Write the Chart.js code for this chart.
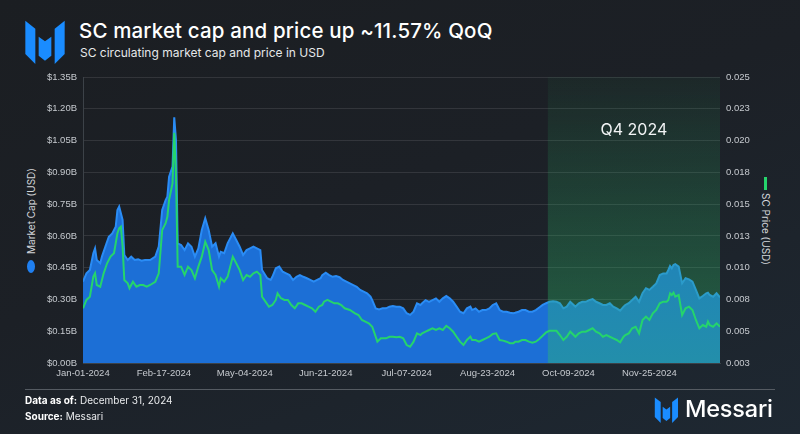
<!DOCTYPE html>
<html>
<head>
<meta charset="utf-8">
<script src="https://cdn.jsdelivr.net/npm/chart.js@4.4.1/dist/chart.umd.min.js"></script>
<style>
  html, body { margin:0; padding:0; }
  body {
    width:800px; height:434px; overflow:hidden; position:relative;
    background: linear-gradient(160deg, #1b1e22 0%, #1c2026 45%, #1e2832 100%);
    font-family: Inter, "Liberation Sans", sans-serif; color:#fff;
  }
  #c { position:absolute; left:0; top:0; }
  .abs { position:absolute; white-space:nowrap; }
  #title { left:79px; top:19px; font-size:20.5px; font-weight:500; line-height:24px; letter-spacing:0.15px; }
  #sub { left:80px; top:45px; font-size:12px; line-height:16px; color:#e6e8ea; }
  .rot { transform: translate(-50%,-50%) rotate(-90deg); }
  .rotr { transform: translate(-50%,-50%) rotate(90deg); }
  .axt { font-size:10px; color:#d3d6da; line-height:12px; }
  #foot-line { position:absolute; left:25px; top:389px; width:750px; height:1px; background:#555b62; }
  .foot { font-size:10px; color:#e8eaec; line-height:13px; }
  .foot b { font-weight:700; color:#fff; }
</style>
</head>
<body>
<svg class="abs" style="left:18px;top:14px" width="56" height="56" viewBox="0 0 168 168">
  <polygon points="22,20 52,44 52,150 22,120" fill="#1a8cff"/>
  <polygon points="62,68 81,82 100,68 100,125 81,140 62,125" fill="#1a8cff"/>
  <polygon points="140,20 110,44 110,150 140,120" fill="#1a8cff"/>
</svg>
<div id="title" class="abs">SC market cap and price up ~11.57% QoQ</div>
<div id="sub" class="abs">SC circulating market cap and price in USD</div>

<div class="abs axt rot" style="left:31px;top:211px;">Market Cap (USD)</div>
<div class="abs" style="left:27px;top:260px;width:8px;height:13px;border-radius:50%;background:#1f7ff0;"></div>
<div class="abs axt rotr" style="left:766px;top:229px;">SC Price (USD)</div>
<div class="abs" style="left:764px;top:177px;width:2.5px;height:13px;background:#25d46c;"></div>

<canvas id="c" width="800" height="434"></canvas>

<div id="foot-line"></div>
<div class="abs foot" style="left:25px;top:394px;"><b>Data as of:</b> December 31, 2024</div>
<div class="abs foot" style="left:25px;top:410px;"><b>Source:</b> Messari</div>
<svg class="abs" style="left:654px;top:397px" width="26" height="26" viewBox="18 18 132 132">
  <polygon points="22,20 52,44 52,150 22,120" fill="#1a8cff"/>
  <polygon points="62,68 81,82 100,68 100,125 81,140 62,125" fill="#1a8cff"/>
  <polygon points="140,20 110,44 110,150 140,120" fill="#1a8cff"/>
</svg>
<div class="abs" style="left:685px;top:394px;font-size:23.5px;line-height:30px;font-weight:500;color:#fff;letter-spacing:-0.2px;">Messari</div>

<script>
// ---- Data (x = day index along the axis) ----
const tickLabels = ["Jan-01-2024","Feb-17-2024","May-04-2024","Jun-21-2024","Jul-07-2024","Aug-23-2024","Oct-09-2024","Nov-25-2024"];
const tickDays   = [0, 47, 94, 141, 188, 235, 282, 329];
const lastDay = 370;
const q4StartDay = 270;
const q4Label = "Q4 2024";

// Market cap in billions of USD
const capDays = [0,2,4,6,7,8,10,11,13,15,17,19,20,21,23,24,26,28,30,32,34,36,39,42,44,46,48,49,50,52,53,54,55,57,59,61,63,65,67,69,71,73,75,77,79,80,82,84,87,89,91,93,95,97,99,101,103,104,107,109,110,112,114,116,118,120,122,124,126,128,130,132,134,136,138,139,141,143,145,147,149,151,153,155,157,159,161,163,165,167,168,170,172,174,176,178,180,182,184,186,188,190,192,194,196,197,199,201,203,205,207,209,211,213,215,217,219,221,223,225,226,228,230,232,234,236,238,240,242,244,246,248,250,251,253,255,257,259,261,263,265,267,269,271,273,275,277,279,281,283,285,286,288,290,292,294,296,298,300,302,304,306,308,310,312,314,315,317,319,321,323,325,327,329,331,333,335,337,339,340,341,342,343,344,346,348,350,352,354,356,358,360,362,363,364,366,368,370];
const capValues = [0.384,0.423,0.439,0.518,0.541,0.486,0.471,0.502,0.549,0.596,0.612,0.643,0.722,0.738,0.675,0.510,0.486,0.502,0.486,0.489,0.483,0.486,0.486,0.502,0.549,0.722,0.769,0.785,0.879,0.927,1.160,1.053,0.565,0.557,0.533,0.565,0.549,0.502,0.541,0.628,0.683,0.628,0.549,0.565,0.502,0.525,0.518,0.565,0.612,0.581,0.549,0.510,0.533,0.541,0.549,0.541,0.533,0.439,0.400,0.392,0.407,0.447,0.455,0.431,0.423,0.415,0.392,0.407,0.415,0.407,0.400,0.392,0.384,0.392,0.400,0.415,0.426,0.415,0.407,0.411,0.405,0.392,0.384,0.376,0.368,0.360,0.345,0.337,0.329,0.313,0.297,0.258,0.253,0.258,0.258,0.266,0.269,0.266,0.266,0.258,0.235,0.227,0.242,0.282,0.274,0.282,0.297,0.289,0.297,0.305,0.289,0.305,0.316,0.305,0.289,0.266,0.242,0.235,0.258,0.266,0.250,0.258,0.242,0.250,0.250,0.258,0.274,0.282,0.250,0.242,0.242,0.237,0.235,0.237,0.242,0.250,0.250,0.242,0.242,0.250,0.262,0.274,0.282,0.289,0.291,0.289,0.282,0.258,0.266,0.289,0.274,0.266,0.282,0.289,0.289,0.297,0.302,0.289,0.282,0.274,0.274,0.282,0.266,0.258,0.247,0.266,0.274,0.282,0.297,0.313,0.289,0.329,0.353,0.345,0.360,0.376,0.415,0.423,0.423,0.439,0.458,0.447,0.463,0.467,0.455,0.376,0.400,0.395,0.384,0.345,0.305,0.316,0.329,0.332,0.321,0.313,0.329,0.310];

// SC price in USD
const priceDays = [0,2,4,6,7,8,10,12,14,16,18,20,21,22,23,24,26,27,29,31,33,35,37,39,42,44,46,48,49,50,52,53,54,55,57,59,61,63,65,67,69,71,73,75,77,79,80,82,84,87,89,91,93,95,97,99,101,103,104,106,108,110,112,113,115,117,119,121,123,125,127,129,131,133,135,137,139,140,142,144,146,148,150,152,155,158,160,162,164,166,168,169,171,173,176,178,180,182,184,186,188,190,192,194,196,197,199,201,203,205,207,209,211,213,215,217,219,221,223,225,226,228,230,232,234,236,238,240,242,244,246,248,250,251,253,255,257,259,261,263,265,267,269,271,273,275,277,279,281,283,285,286,288,290,292,294,296,298,300,302,304,306,308,310,312,314,315,317,319,321,323,325,327,329,331,333,335,337,339,340,341,342,343,344,346,348,350,352,354,356,358,360,362,363,364,366,368,370];
const priceValues = [0.00721,0.00785,0.00810,0.00964,0.00990,0.00900,0.00887,0.00990,0.01067,0.01118,0.01144,0.01298,0.01336,0.01349,0.01195,0.00938,0.00913,0.00875,0.00925,0.00887,0.00900,0.00900,0.00887,0.00900,0.00925,0.00990,0.01323,0.01375,0.01425,0.01554,0.01682,0.02070,0.01759,0.01041,0.01041,0.00977,0.01041,0.01015,0.00951,0.01041,0.01118,0.01233,0.01169,0.01015,0.00977,0.00887,0.00951,0.00925,0.00964,0.01118,0.01067,0.01015,0.00938,0.00977,0.00964,0.00990,0.01003,0.00977,0.00810,0.00772,0.00733,0.00746,0.00785,0.00836,0.00798,0.00785,0.00785,0.00746,0.00721,0.00759,0.00759,0.00746,0.00733,0.00721,0.00695,0.00733,0.00746,0.00772,0.00785,0.00772,0.00759,0.00759,0.00746,0.00721,0.00708,0.00682,0.00669,0.00631,0.00618,0.00605,0.00579,0.00541,0.00464,0.00490,0.00490,0.00502,0.00502,0.00498,0.00502,0.00490,0.00438,0.00425,0.00464,0.00528,0.00515,0.00528,0.00541,0.00554,0.00567,0.00554,0.00567,0.00554,0.00585,0.00567,0.00541,0.00502,0.00464,0.00438,0.00477,0.00502,0.00477,0.00477,0.00464,0.00477,0.00490,0.00502,0.00523,0.00528,0.00477,0.00472,0.00464,0.00452,0.00452,0.00464,0.00464,0.00477,0.00477,0.00464,0.00456,0.00464,0.00485,0.00510,0.00535,0.00548,0.00549,0.00548,0.00515,0.00477,0.00502,0.00541,0.00515,0.00502,0.00528,0.00541,0.00541,0.00554,0.00567,0.00541,0.00528,0.00502,0.00515,0.00502,0.00490,0.00477,0.00459,0.00502,0.00515,0.00528,0.00567,0.00579,0.00528,0.00631,0.00656,0.00631,0.00682,0.00708,0.00759,0.00772,0.00772,0.00785,0.00836,0.00823,0.00841,0.00810,0.00823,0.00669,0.00721,0.00733,0.00708,0.00631,0.00567,0.00592,0.00579,0.00618,0.00592,0.00579,0.00605,0.00579];

const capMin = 0, capMax = 1.35, capStep = 0.15;
const priceMin = 0.003, priceMax = 0.025, priceSteps = 9;

// ---- Chart ----
const tickFont = { family: "'Liberation Sans', Arial, sans-serif", size: 9.5 };
const tickColor = '#c6cacf';
const gridColor = 'rgba(255,255,255,0.10)';

const q4Plugin = {
  id: 'q4',
  afterDatasetDraw(chart, args) {
    if (args.index !== 1) return;
    const { ctx, chartArea } = chart;
    const xs = chart.scales.x;
    const x0 = xs.getPixelForValue(q4StartDay), x1 = xs.getPixelForValue(lastDay);
    const g = ctx.createLinearGradient(0, chartArea.top, 0, chartArea.bottom);
    g.addColorStop(0, 'rgba(45,190,105,0.05)');
    g.addColorStop(1, 'rgba(45,190,105,0.40)');
    ctx.save();
    ctx.fillStyle = g;
    ctx.fillRect(x0, chartArea.top, x1 - x0, chartArea.bottom - chartArea.top);
    ctx.restore();
  },
  afterDatasetsDraw(chart) {
    const { ctx, chartArea } = chart;
    const xs = chart.scales.x;
    const x0 = xs.getPixelForValue(q4StartDay), x1 = xs.getPixelForValue(lastDay);
    ctx.save();
    ctx.fillStyle = '#f2f4f5';
    ctx.font = "16px Inter, 'Liberation Sans', sans-serif";
    ctx.textAlign = 'center';
    ctx.textBaseline = 'middle';
    ctx.fillText(q4Label, (x0 + x1) / 2, chartArea.top + 53);
    ctx.restore();
  }
};

new Chart(document.getElementById('c'), {
  type: 'line',
  data: {
    datasets: [
      {
        label: 'SC Price (USD)',
        data: priceDays.map((d, i) => ({ x: d, y: priceValues[i] })),
        yAxisID: 'y1',
        borderColor: '#25d46c',
        borderWidth: 2,
        pointRadius: 0,
        fill: false,
        tension: 0,
        order: 0
      },
      {
        label: 'Market Cap (USD)',
        data: capDays.map((d, i) => ({ x: d, y: capValues[i] })),
        yAxisID: 'y',
        borderColor: '#2a8cf5',
        backgroundColor: '#1c6fd6',
        borderWidth: 2,
        pointRadius: 0,
        fill: 'origin',
        tension: 0,
        order: 1
      }
    ]
  },
  options: {
    responsive: false,
    animation: false,
    devicePixelRatio: 1,
    layout: { padding: { top: 77, left: 0, right: 0, bottom: 0 } },
    plugins: { legend: { display: false }, tooltip: { enabled: false } },
    scales: {
      x: {
        type: 'linear', min: 0, max: lastDay,
        afterBuildTicks: (s) => { s.ticks = tickDays.map(v => ({ value: v })); },
        afterFit: (s) => { s.height = 71; },
        ticks: { autoSkip: false, maxRotation: 0, padding: 5, color: tickColor, font: tickFont,
                 callback: (v) => { const i = tickDays.indexOf(v); return i >= 0 ? tickLabels[i] : ''; } },
        grid: { display: false, drawTicks: false },
        border: { display: true, color: '#3c4248' }
      },
      y: {
        position: 'left', min: capMin, max: capMax,
        afterFit: (s) => { s.width = 83; },
        ticks: { stepSize: capStep, padding: 6, color: tickColor, font: tickFont,
                 callback: (v) => '$' + v.toFixed(2) + 'B' },
        grid: { color: gridColor, drawTicks: false },
        border: { display: true, color: '#3c4248' }
      },
      y1: {
        position: 'right', min: priceMin, max: priceMax,
        afterBuildTicks: (s) => {
          const t = [];
          for (let i = 0; i <= priceSteps; i++) t.push({ value: priceMin + (priceMax - priceMin) * i / priceSteps });
          s.ticks = t;
        },
        afterFit: (s) => { s.width = 80; },
        ticks: { padding: 6, color: tickColor, font: tickFont, callback: (v) => v.toFixed(3) },
        grid: { drawOnChartArea: false, drawTicks: false },
        border: { display: false }
      }
    }
  },
  plugins: [q4Plugin]
});
</script>
</body>
</html>
